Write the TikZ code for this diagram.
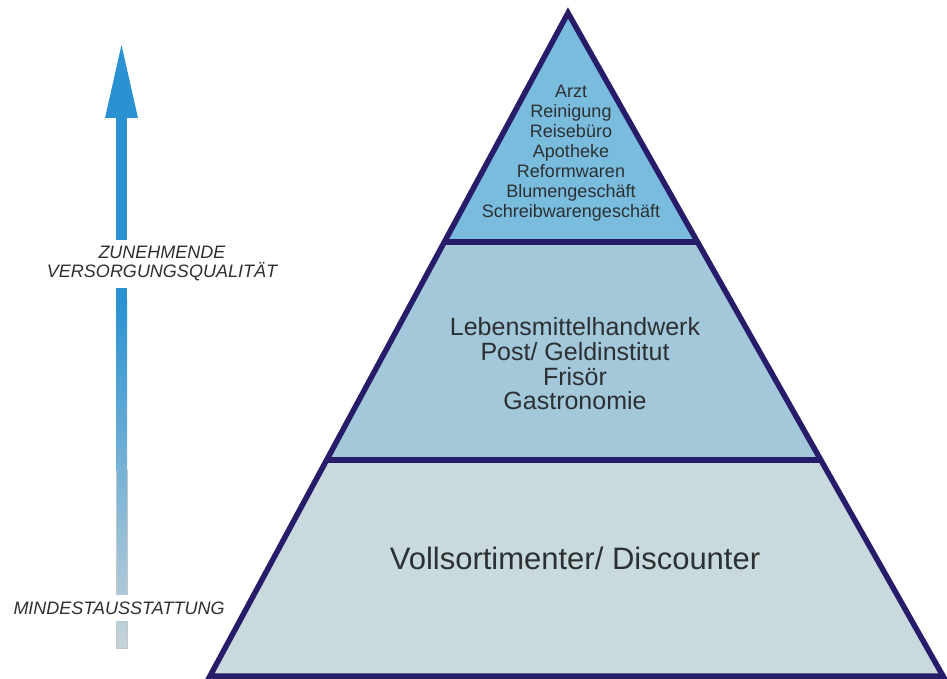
\documentclass[tikz,border=0pt]{standalone}
\usepackage{fontspec}
\setmainfont{Liberation Sans}

\definecolor{pyrline}{RGB}{38,28,105}
\definecolor{lvltop}{RGB}{122,188,222}
\definecolor{lvlmid}{RGB}{162,200,218}
\definecolor{lvlbase}{RGB}{200,218,222}
\definecolor{arrblue}{RGB}{42,146,210}
\definecolor{arrgrey}{RGB}{198,211,217}
\definecolor{txtgrey}{RGB}{45,48,50}

\tikzset{
  border/.style={draw=pyrline, line width=5.5pt, line join=miter},
  lvltext/.style={text=txtgrey, align=center, inner sep=0pt},
  sidelabel/.style={text=txtgrey, align=center, fill=white, inner xsep=2pt, inner ysep=7pt,
    font=\itshape\fontsize{18}{19}\selectfont}
}

\begin{document}
\begin{tikzpicture}[x=1pt,y=-1pt]
            \useasboundingbox (0,0) rectangle (947,679);

            % Pyramid corners
            \coordinate (apex) at (568,13);
            \coordinate (ul) at (444,242);
            \coordinate (ur) at (698,242);
            \coordinate (ml) at (327,460);
            \coordinate (mr) at (821,460);
            \coordinate (bl) at (210,676);
            \coordinate (br) at (943,676);

            % Levels
            \fill[lvltop] (apex) -- (ur) -- (ul) -- cycle;
            \fill[lvlmid] (ul) -- (ur) -- (mr) -- (ml) -- cycle;
            \fill[lvlbase] (ml) -- (mr) -- (br) -- (bl) -- cycle;
            \draw[border] (apex) -- (br) -- (bl) -- cycle;
            \draw[border] (ul) -- (ur);
            \draw[border] (ml) -- (mr);

            % Level texts
            \node[lvltext, font=\fontsize{18}{20}\selectfont] (top) at (571,153)
              {Arzt\\Reinigung\\Reisebüro\\Apotheke\\Reformwaren\\Blumengeschäft\\Schreibwarengeschäft};
            \node[lvltext, font=\fontsize{25}{24.7}\selectfont] (mid) at (575,364)
              {Lebensmittelhandwerk\\Post/ Geldinstitut\\Frisör\\Gastronomie};
            \node[lvltext, font=\fontsize{31}{34}\selectfont] (base) at (575,558)
              {Vollsortimenter/ Discounter};

            % Quality arrow
            \fill[arrblue] (116,117) rectangle (127,300);
            \shade[top color=arrblue, bottom color=arrgrey] (116,300) rectangle (127,648);
            \draw[gray!45, line width=0.6pt] (116,470) -- (116,648) -- (127,648) -- (127,470);
            \fill[arrblue] (121.5,45) -- (138,118) -- (105,118) -- cycle;

            % Side labels
            \node[sidelabel] (more) at (162,264) {ZUNEHMENDE\\VERSORGUNGSQUALITÄT};
            \node[sidelabel] (least) at (119,608) {MINDESTAUSSTATTUNG};
\end{tikzpicture}
\end{document}
